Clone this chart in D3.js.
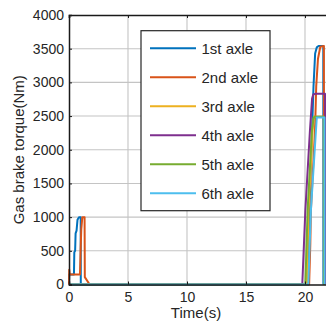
<!DOCTYPE html>
<html>
<head>
<meta charset="utf-8">
<script src="https://cdn.jsdelivr.net/npm/d3@7"></script>
<style>
  html, body { margin: 0; padding: 0; background: #ffffff; }
  svg { display: block; }
  text { font-family: Arial, "Liberation Sans", Helvetica, sans-serif; fill: #262626; }
</style>
</head>
<body>
<div id="chart"></div>
<script>
// Series names, colours and axis ticks
const axleNames  = ["1st axle", "2nd axle", "3rd axle", "4th axle", "5th axle", "6th axle"];
const axleColors = ["#0072BD", "#D95319", "#EDB120", "#7E2F8E", "#77AC30", "#4DBEEE"];
const xTicks = [0, 5, 10, 15, 20];
const yTicks = [0, 500, 1000, 1500, 2000, 2500, 3000, 3500, 4000];

// Gas brake torque (Nm) against time (s) for each axle
const axle1Time   = [0, 0.02, 0.42, 0.45, 0.52, 0.56, 0.64, 0.72, 0.85, 0.99, 1.0, 20.28, 20.37, 20.6, 20.72, 20.86, 21.0, 21.15, 21.55, 21.56];
const axle1Torque = [0, 150, 150, 480, 500, 760, 800, 960, 1000, 1000, 0, 0, 1100, 2290, 2940, 3430, 3520, 3540, 3540, 0];

const axle2Time   = [0, 0.02, 0.06, 0.93, 0.98, 1.04, 1.13, 1.32, 1.34, 1.75, 20.35, 20.45, 20.5, 20.85, 20.95, 21.1, 21.3, 21.6, 21.61];
const axle2Torque = [0, 220, 150, 150, 480, 820, 1000, 1000, 110, 0, 0, 600, 1100, 2290, 2940, 3350, 3530, 3540, 0];

const axle3Time   = [0, 20.15, 20.3, 20.65, 20.75, 21.6, 21.61];
const axle3Torque = [0, 0, 1100, 2290, 2490, 2490, 0];

const axle4Time   = [0, 19.77, 20.03, 20.42, 20.6, 20.7, 20.85, 21.7, 21.71];
const axle4Torque = [0, 0, 1100, 2290, 2760, 2820, 2830, 2830, 0];

const axle5Time   = [0, 20.03, 20.22, 20.59, 20.72, 20.8, 21.6, 21.61];
const axle5Torque = [0, 0, 1100, 2290, 2460, 2490, 2490, 0];

const axle6Time   = [0, 20.28, 20.5, 20.93, 21.0, 21.65, 21.66];
const axle6Torque = [0, 0, 1100, 2290, 2480, 2480, 0];

const seriesTimes   = [axle1Time, axle2Time, axle3Time, axle4Time, axle5Time, axle6Time];
const seriesTorques = [axle1Torque, axle2Torque, axle3Torque, axle4Torque, axle5Torque, axle6Torque];

const W = 326, H = 328;
const plot = { left: 69, top: 15, bottom: 284.5 };

const x = d3.scaleLinear().domain([0, 22]).range([plot.left, plot.left + 22 * 11.8]);
const y = d3.scaleLinear().domain([0, 4000]).range([plot.bottom, plot.top]);

const svg = d3.select("#chart").append("svg")
  .attr("width", W).attr("height", H);

svg.append("rect").attr("width", W).attr("height", H).attr("fill", "#ffffff");

// Grid
const grid = svg.append("g").attr("stroke", "#c4c4c4").attr("stroke-width", 1.1);
grid.selectAll("line.h").data(yTicks.filter(v => v > 0 && v < 4000)).join("line")
  .attr("x1", x(0)).attr("x2", x(22))
  .attr("y1", d => y(d)).attr("y2", d => y(d));
grid.selectAll("line.v").data(xTicks.filter(v => v > 0)).join("line")
  .attr("x1", d => x(d)).attr("x2", d => x(d))
  .attr("y1", y(4000)).attr("y2", y(0));

// Torque curves
const line = d3.line().x(d => x(d[0])).y(d => y(d[1]));
seriesTimes.forEach((ts, i) => {
  const pts = ts.map((t, k) => [t, seriesTorques[i][k]]);
  svg.append("path")
    .attr("d", line(pts))
    .attr("fill", "none")
    .attr("stroke", axleColors[i])
    .attr("stroke-width", 2)
    .attr("stroke-linejoin", "round");
});

// Axes (drawn over the data)
const axisColor = "#1a1a1a";
const yAxis = d3.axisLeft(y).tickValues(yTicks).tickSize(-3).tickPadding(5).tickFormat(d3.format("d"));
const gy = svg.append("g").attr("transform", `translate(${x(0)},0)`).call(yAxis);
gy.select(".domain").attr("stroke", axisColor).attr("stroke-width", 1.5);
gy.selectAll(".tick line").attr("stroke", axisColor);
gy.selectAll(".tick text").attr("font-size", 14).attr("fill", "#262626");

const xAxis = d3.axisBottom(x).tickValues(xTicks).tickSize(-3).tickPadding(8).tickFormat(d3.format("d"));
const gx = svg.append("g").attr("transform", `translate(0,${y(0)})`).call(xAxis);
gx.select(".domain").attr("stroke", axisColor).attr("stroke-width", 1.5);
gx.selectAll(".tick line").attr("stroke", axisColor);
gx.selectAll(".tick text").attr("font-size", 14).attr("fill", "#262626");

const xTop = d3.axisTop(x).tickValues(xTicks).tickSize(-3).tickFormat("");
const gt = svg.append("g").attr("transform", `translate(0,${y(4000)})`).call(xTop);
gt.select(".domain").attr("stroke", axisColor).attr("stroke-width", 1.7);
gt.selectAll(".tick line").attr("stroke", axisColor);

// Axis titles
svg.append("text")
  .attr("transform", `translate(24,${(y(0) + y(4000)) / 2}) rotate(-90)`)
  .attr("text-anchor", "middle")
  .attr("font-size", 15)
  .text("Gas brake torque(Nm)");

svg.append("text")
  .attr("x", 196).attr("y", 318)
  .attr("text-anchor", "middle")
  .attr("font-size", 15)
  .text("Time(s)");

// Legend
const legend = svg.append("g");
legend.append("rect")
  .attr("x", 141).attr("y", 30.7).attr("width", 129).attr("height", 180)
  .attr("fill", "#ffffff").attr("stroke", "#262626").attr("stroke-width", 1.2);
axleNames.forEach((name, i) => {
  const ly = 48.3 + i * 29;
  legend.append("line")
    .attr("x1", 150).attr("x2", 196).attr("y1", ly).attr("y2", ly)
    .attr("stroke", axleColors[i]).attr("stroke-width", 2);
  legend.append("text")
    .attr("x", 201.5).attr("y", ly).attr("dy", "0.35em")
    .attr("font-size", 15)
    .text(name);
});
</script>
</body>
</html>
